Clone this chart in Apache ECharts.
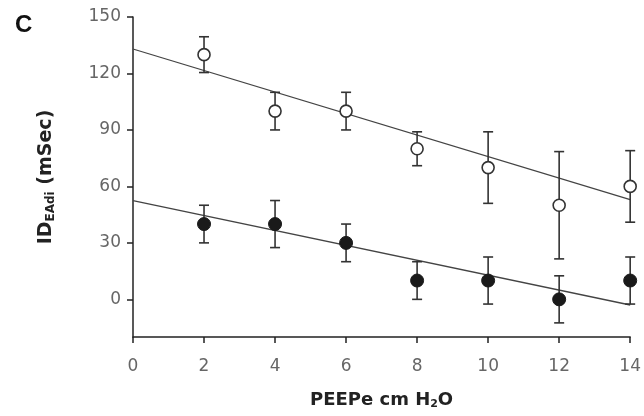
<!DOCTYPE html>
<html><head><meta charset="utf-8">
<script src="https://cdn.jsdelivr.net/npm/echarts@6/dist/echarts.min.js"></script>
<style>html,body{margin:0;padding:0;background:#fff}#c{width:644px;height:416px}</style>
</head><body><div id="c"></div>
<script>
const peep = [2, 4, 6, 8, 10, 12, 14];
const openMean = [130, 100, 100, 80, 70, 50, 60];
const openErr  = [9.5, 10, 10, 9, 19, 28.5, 19];
const filledMean = [40, 40, 30, 10, 10, 0, 10];
const filledErr  = [10, 12.5, 10, 10, 12.5, 12.5, 12.5];
const openFit = [[0, 133], [14, 53]];
const filledFit = [[0, 52.5], [14, -3]];
const yTicks = [0, 30, 60, 90, 120, 150];
const xTicks = [0, 2, 4, 6, 8, 10, 12, 14];

const chart = echarts.init(document.getElementById('c'), null, {renderer: 'canvas'});
const labelFont = 'DejaVu Sans';
function errSeries(mean, err) {
  return {
    type: 'custom',
    data: peep.map((x, i) => [x, mean[i] - err[i], mean[i] + err[i]]),
    renderItem: function (params, api) {
      const lo = api.coord([api.value(0), api.value(1)]);
      const hi = api.coord([api.value(0), api.value(2)]);
      const w = 5;
      const st = {stroke: '#333', lineWidth: 1.6};
      return {type: 'group', children: [
        {type: 'line', shape: {x1: lo[0], y1: lo[1], x2: hi[0], y2: hi[1]}, style: st},
        {type: 'line', shape: {x1: lo[0] - w, y1: lo[1], x2: lo[0] + w, y2: lo[1]}, style: st},
        {type: 'line', shape: {x1: hi[0] - w, y1: hi[1], x2: hi[0] + w, y2: hi[1]}, style: st}
      ]};
    },
    z: 2
  };
}
chart.setOption({
  animation: false,
  title: {text: 'C', left: 10, top: 8, textStyle: {fontFamily: 'Liberation Sans', fontWeight: 'bold', fontSize: 24, color: '#111'}},
  grid: {left: 133, right: 13, top: 17, bottom: 79},
  xAxis: {
    type: 'value', min: 0, max: 14, interval: 2,
    name: 'PEEPe cm H{sub|2}O', nameLocation: 'middle', nameGap: 54,
    nameTextStyle: {fontFamily: labelFont, fontWeight: 'bold', fontSize: 18, color: '#222',
      rich: {sub: {fontFamily: labelFont, fontWeight: 'bold', fontSize: 11, color: '#222', verticalAlign: 'bottom', padding: [8, 0, 0, 0]}}},
    axisLine: {onZero: false, lineStyle: {color: '#222', width: 1.5}},
    axisTick: {show: true, inside: false, length: 6, lineStyle: {color: '#222', width: 1.5}, customValues: xTicks},
    axisLabel: {fontFamily: labelFont, fontSize: 17, color: '#666', margin: 21, customValues: xTicks},
    splitLine: {show: false}
  },
  yAxis: {
    type: 'value', min: -20, max: 150,
    name: 'ID{sub|EAdi} (mSec)', nameLocation: 'middle', nameRotate: 90, nameGap: 76,
    nameTextStyle: {fontFamily: labelFont, fontWeight: 'bold', fontSize: 19, color: '#222',
      rich: {sub: {fontFamily: labelFont, fontWeight: 'bold', fontSize: 12, color: '#222', padding: [10, 0, 0, 0]}}},
    axisLine: {show: true, onZero: false, lineStyle: {color: '#222', width: 1.5}},
    axisTick: {show: true, inside: false, length: 6, lineStyle: {color: '#222', width: 1.5}, customValues: yTicks},
    axisLabel: {fontFamily: labelFont, fontSize: 17, color: '#666', margin: 12, customValues: yTicks},
    splitLine: {show: false}
  },
  series: [
    {type: 'line', data: openFit, symbol: 'none', lineStyle: {color: '#444', width: 1.3}, z: 1},
    {type: 'line', data: filledFit, symbol: 'none', lineStyle: {color: '#444', width: 1.3}, z: 1},
    errSeries(openMean, openErr),
    errSeries(filledMean, filledErr),
    {type: 'scatter', data: peep.map((x, i) => [x, openMean[i]]), symbol: 'circle', symbolSize: 12,
      itemStyle: {color: '#fff', borderColor: '#333', borderWidth: 1.6, opacity: 1}, z: 3},
    {type: 'scatter', data: peep.map((x, i) => [x, filledMean[i]]), symbol: 'circle', symbolSize: 13,
      itemStyle: {color: '#1a1a1a', borderColor: '#1a1a1a', borderWidth: 1, opacity: 1}, z: 3}
  ]
});
</script></body></html>
